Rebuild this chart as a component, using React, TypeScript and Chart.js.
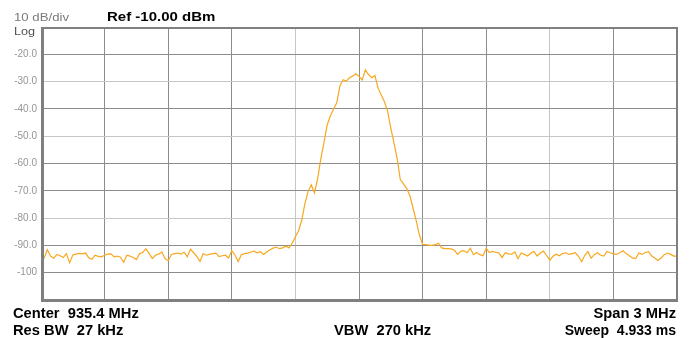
import { useEffect, useRef } from "react";
import { Chart, registerables } from "chart.js";

Chart.register(...registerables);

// Sweep settings
const startFreqMHz = 933.9;
const stopFreqMHz = 936.9;
const gridDivisions = 10;
const refLevelDbm = -10;
const dbPerDiv = 10;

// Measured trace (dBm), one value per sweep bin
const traceDbm: number[] = [
  -93.4, -94.6, -91.6, -93.9, -94.7, -93.3, -93.8, -94.4, -93.0, -96.4,
  -93.5, -93.2, -92.9, -93.1, -92.8, -94.5, -95.1, -93.6, -94.0, -94.2,
  -93.6, -93.2, -93.1, -94.2, -93.9, -94.3, -96.2, -93.6, -93.9, -94.4,
  -95.2, -93.0, -92.6, -91.2, -92.9, -94.8, -93.6, -93.2, -92.4, -94.8,
  -95.6, -93.3, -93.0, -92.8, -93.2, -92.5, -94.2, -91.4, -92.7, -94.0,
  -95.9, -93.0, -93.6, -93.3, -93.0, -92.8, -94.1, -93.8, -93.6, -94.6,
  -91.9, -93.5, -95.9, -93.4, -93.0, -92.8, -92.4, -92.1, -92.7, -92.3,
  -93.3, -92.4, -91.6, -91.0, -90.6, -91.2, -90.9, -90.3, -90.9, -89.2,
  -86.8, -84.6, -80.8, -74.6, -70.2, -67.8, -70.8, -65.5, -58.2, -52.3,
  -45.8, -42.6, -40.1, -37.8, -31.6, -29.3, -29.8, -28.6, -28.0, -27.1,
  -28.1, -29.4, -25.7, -27.4, -28.6, -27.8, -32.4, -34.9, -37.4, -40.8,
  -47.0, -52.5, -58.2, -66.0, -67.5, -69.2, -71.8, -76.4, -81.0, -86.2,
  -89.6, -89.7, -89.9, -90.0, -89.7, -89.2, -90.9, -91.2, -91.2, -91.3,
  -91.8, -93.3, -92.2, -91.9, -92.7, -91.0, -93.4, -92.6, -93.4, -93.8,
  -91.0, -92.6, -92.2, -92.5, -92.8, -94.5, -92.7, -93.1, -93.2, -92.4,
  -94.9, -92.8, -93.3, -93.9, -92.9, -92.2, -93.9, -92.8, -92.1, -93.7,
  -95.4, -94.0, -93.2, -93.8, -93.0, -92.7, -93.3, -93.0, -92.7, -94.0,
  -96.0, -93.6, -92.3, -94.7, -93.4, -92.7, -93.6, -93.9, -92.2, -92.7,
  -93.1, -93.3, -92.7, -92.0, -93.0, -93.8, -94.6, -94.8, -92.8, -93.3,
  -92.6, -92.3, -93.8, -94.6, -95.5, -94.6, -93.4, -92.8, -93.3, -93.9,
  -93.9,
];

// Amplitude axis labels, top graticule line down to the bottom one
const levelTickValues: number[] = [-10, -20, -30, -40, -50, -60, -70, -80, -90, -100, -110];
const levelTickLabels: string[] = ["", "-20.0", "-30.0", "-40.0", "-50.0", "-60.0", "-70.0", "-80.0", "-90.0", "-100", ""];

// Annotation text around the graticule
const scaleText = "10 dB/div";
const modeText = "Log";
const refText = "Ref -10.00 dBm";
const centerText = "Center  935.4 MHz";
const spanText = "Span 3 MHz";
const rbwText = "Res BW  27 kHz";
const vbwText = "VBW  270 kHz";
const sweepText = "Sweep  4.933 ms";

const FONT = "'Liberation Sans', Arial, sans-serif";
const TRACE_COLOR = "rgb(248,168,30)";
const GRID_DARK = "#8c8c8c";
const GRID_LIGHT = "#c6c6c6";
const FRAME_COLOR = "#808080";

// graticule lines that render lighter on this display
const lightFreqLines = [4, 8];
const lightLevelLines = [-30, -50, -80];

function drawStretched(
  ctx: CanvasRenderingContext2D,
  text: string,
  x: number,
  y: number,
  font: string,
  color: string,
  align: "left" | "right" | "center",
  sx: number
) {
  ctx.save();
  ctx.font = font;
  ctx.fillStyle = color;
  ctx.textBaseline = "alphabetic";
  ctx.textAlign = "left";
  const w = ctx.measureText(text).width * sx;
  const x0 = align === "left" ? x : align === "right" ? x - w : x - w / 2;
  ctx.translate(x0, y);
  ctx.scale(sx, 1);
  ctx.fillText(text, 0, 0);
  ctx.restore();
}

const analyzerDecor = {
  id: "analyzerDecor",
  afterDraw(chart: Chart) {
    const ctx = chart.ctx;
    const a = chart.chartArea;
    ctx.save();
    // graticule frame
    ctx.fillStyle = FRAME_COLOR;
    ctx.fillRect(a.left, a.top, a.right - a.left + 1, 2);
    ctx.fillRect(a.left, a.top, 3, a.bottom - a.top + 2);
    ctx.fillRect(a.right - 1, a.top, 2, a.bottom - a.top + 2);
    ctx.fillRect(a.left, a.bottom - 1, a.right - a.left + 1, 3);
    ctx.restore();

    // header
    drawStretched(ctx, scaleText, 14, 21, `11px ${FONT}`, "#7a7a7a", "left", 1.2);
    drawStretched(ctx, modeText, 14, 35, `11px ${FONT}`, "#505050", "left", 1.15);
    drawStretched(ctx, refText, 107, 21, `bold 12.5px ${FONT}`, "#000000", "left", 1.2);

    // footer
    const ff = `bold 14px ${FONT}`;
    drawStretched(ctx, centerText, 13, 318, ff, "#000000", "left", 1.05);
    drawStretched(ctx, rbwText, 13, 335, ff, "#000000", "left", 1.05);
    drawStretched(ctx, vbwText, 334, 335, ff, "#000000", "left", 1.05);
    drawStretched(ctx, spanText, 676, 318, ff, "#000000", "right", 1.05);
    drawStretched(ctx, sweepText, 676, 335, ff, "#000000", "right", 1.0);
  },
};

export default function App() {
  const canvasRef = useRef<HTMLCanvasElement | null>(null);

  useEffect(() => {
    const canvas = canvasRef.current;
    if (!canvas) return;
    const n = traceDbm.length;
    const stepMHz = (stopFreqMHz - startFreqMHz) / (n - 1);
    const points = traceDbm.map((v, i) => ({ x: startFreqMHz + i * stepMHz, y: v }));
    const divMHz = (stopFreqMHz - startFreqMHz) / gridDivisions;
    const bottomDbm = refLevelDbm - dbPerDiv * gridDivisions;

    const chart = new Chart(canvas, {
      type: "line",
      data: {
        datasets: [
          {
            data: points,
            borderColor: TRACE_COLOR,
            borderWidth: 1.2,
            pointRadius: 0,
            tension: 0,
            fill: false,
          },
        ],
      },
      options: {
        animation: false,
        responsive: false,
        devicePixelRatio: 1,
        events: [],
        layout: { padding: { left: 0, top: 27, right: 12, bottom: 38 } },
        plugins: { legend: { display: false }, tooltip: { enabled: false }, title: { display: false } },
        scales: {
          x: {
            type: "linear",
            min: startFreqMHz,
            max: stopFreqMHz,
            afterBuildTicks: (scale: any) => {
              scale.ticks = Array.from({ length: gridDivisions + 1 }, (_, k) => ({ value: startFreqMHz + k * divMHz }));
            },
            afterFit: (scale: any) => {
              scale.height = 0;
            },
            ticks: { display: false },
            border: { display: false },
            grid: {
              drawTicks: false,
              lineWidth: 1,
              color: (c: any) => (lightFreqLines.includes(c.index) ? GRID_LIGHT : GRID_DARK),
            },
          },
          y: {
            type: "linear",
            min: bottomDbm,
            max: refLevelDbm,
            afterBuildTicks: (scale: any) => {
              scale.ticks = levelTickValues.map((v) => ({ value: v }));
            },
            afterFit: (scale: any) => {
              scale.width = 41;
            },
            border: { display: false },
            grid: {
              drawTicks: false,
              lineWidth: 1,
              color: (c: any) => (lightLevelLines.includes(c.tick?.value) ? GRID_LIGHT : GRID_DARK),
            },
            ticks: {
              padding: 4,
              color: "#959595",
              font: { family: FONT, size: 10 },
              callback: (value: any) => {
                const idx = levelTickValues.indexOf(Number(value));
                return idx >= 0 ? levelTickLabels[idx] : "";
              },
            },
          },
        },
      },
      plugins: [analyzerDecor],
    });

    return () => chart.destroy();
  }, []);

  return (
    <div style={{ position: "fixed", left: 0, top: 0, width: 689, height: 338, background: "#ffffff" }}>
      <canvas ref={canvasRef} width={689} height={338} style={{ display: "block", width: 689, height: 338 }} />
    </div>
  );
}
